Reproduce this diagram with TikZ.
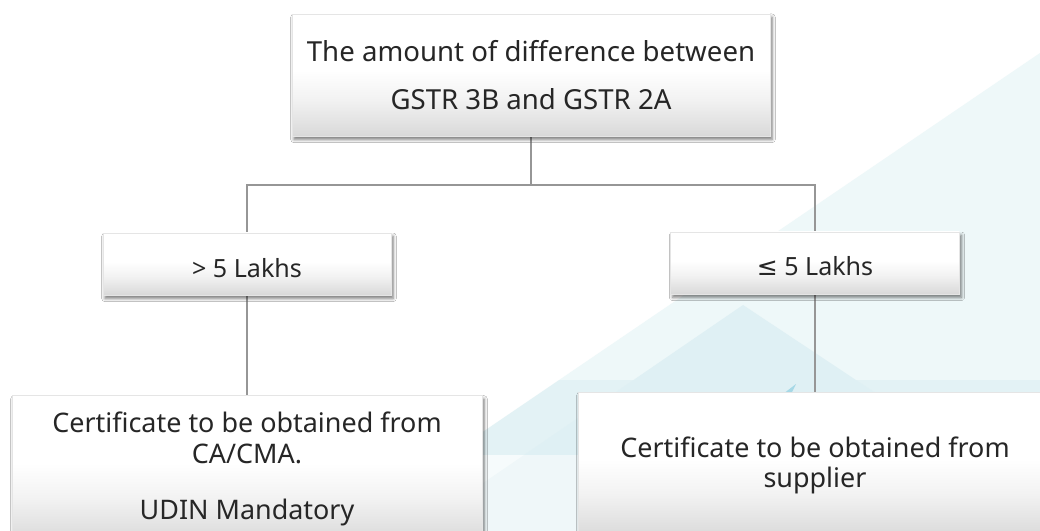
\documentclass[tikz,border=0pt]{standalone}
\usepackage{fontspec}
\setmainfont{Noto Sans}
\newfontfamily\symbfont{DejaVu Sans}
\usetikzlibrary{shadows.blur}
\pgfdeclarelayer{bg}
\pgfdeclarelayer{lines}
\pgfsetlayers{bg,lines,main}
\definecolor{txt}{HTML}{262626}
\definecolor{conn}{HTML}{969696}
\definecolor{bgA}{HTML}{EEF8F9}
\definecolor{bgB}{HTML}{DFF0F4}
\definecolor{bgC}{HTML}{E3F2F5}
\definecolor{sliver}{HTML}{A6D8E6}
\pgfdeclareverticalshading{boxshade}{100bp}{color(0bp)=(black!15); color(25bp)=(black!15); color(40bp)=(black!5); color(52bp)=(white); color(100bp)=(white)}
\tikzset{
  box/.style={rectangle, draw=black!10, line width=0.4pt, shading=boxshade,
    blur shadow={shadow xshift=1.5pt, shadow yshift=-2.5pt, shadow blur radius=2.5pt, shadow opacity=55},
    text=txt, align=center, inner sep=0pt},
  conn/.style={draw=conn, line width=1.7pt}
}
\begin{document}
\begin{tikzpicture}[x=0.75pt,y=-0.75pt]
\useasboundingbox (0,0) rectangle (1040,531);
% nodes
\node[box, minimum width=358.5pt, minimum height=91.5pt, font=\fontsize{20.7}{36}\selectfont] (top) at (531,75) {The amount of difference between\\GSTR 3B and GSTR 2A};
\node[box, minimum width=216pt, minimum height=46.5pt, font=\fontsize{18.8}{22}\selectfont, text height=19.5pt, text depth=0pt] (gt) at (247,264) {> 5 Lakhs};
\node[box, minimum width=216.5pt, minimum height=46.5pt, font=\fontsize{18.8}{22}\selectfont, text height=19.5pt, text depth=0pt] (le) at (815,263) {{\symbfont ≤} 5 Lakhs};
\node[box, minimum width=352.5pt, minimum height=110pt, font=\fontsize{20.2}{23}\selectfont] (ca) at (247,469) {Certificate to be obtained from\\CA/CMA.\\[19pt]UDIN Mandatory};
\node[box, minimum width=355.5pt, minimum height=109.5pt, font=\fontsize{20.2}{20.25}\selectfont] (sup) at (815,465) {Certificate to be obtained from\\[2.25pt]supplier};
\coordinate (hub) at (531,185);
% connectors
\begin{pgfonlayer}{lines}
\draw[conn] (top.south) -- (hub);
\draw[conn] (gt.north) |- (hub) -| (le.north);
\draw[conn] (gt.south) -- (ca.north);
\draw[conn] (le.south) -- (sup.north);
\end{pgfonlayer}
% background
\begin{pgfonlayer}{bg}
\fill[white] (0,0) rectangle (1040,531);
\begin{scope}
\clip (0,0) rectangle (1040,531);
\fill[bgA] (1040,53) -- (1040,531) -- (337,531) -- cycle;
\begin{scope}
\clip (1040,53) -- (1040,600) -- (236,600) -- cycle;
\fill[bgC] (0,380) rectangle (1040,455);
\end{scope}
\fill[bgB] (743,305) -- (1100,542) -- (1100,900) -- (0,900) -- (0,814) -- cycle;
\fill[white, opacity=0.5] (300,455) rectangle (1040,531);
\fill[sliver] (796,384) -- (783,394) -- (791,394) -- cycle;
\end{scope}
\end{pgfonlayer}
\end{tikzpicture}
\end{document}
